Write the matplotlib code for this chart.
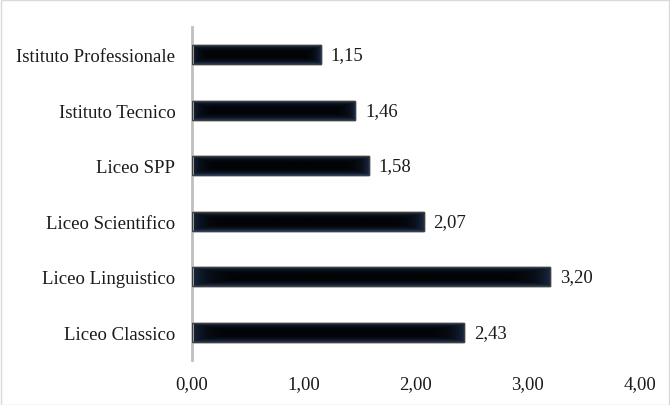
import matplotlib.pyplot as plt
import numpy as np
from matplotlib.patches import Rectangle
from matplotlib.colors import LinearSegmentedColormap

categories = ['Liceo Classico', 'Liceo Linguistico', 'Liceo Scientifico',
              'Liceo SPP', 'Istituto Tecnico', 'Istituto Professionale']
values = [2.43, 3.20, 2.07, 1.58, 1.46, 1.15]
xticks = [0, 1, 2, 3, 4]

plt.rcParams['font.family'] = ['Liberation Serif', 'DejaVu Serif']
fs = 13.5

fig = plt.figure(figsize=(6.7, 4.06), dpi=100)
ax = fig.add_axes([0.2866, 0.111, 0.6684, 0.82])

y = np.arange(len(categories))
bars = ax.barh(y, values, height=0.34, color='#0b1322', edgecolor='#3f3f3f',
               linewidth=1.0, zorder=2)

# soft glow: navy towards the edges, black in the middle
cmap = LinearSegmentedColormap.from_list('bar', ['#020306', '#1e3252'])
gy = np.abs(np.linspace(-1, 1, 64))[:, None] ** 3 * np.ones((64, 256))
gx = np.abs(np.linspace(-1, 1, 256))[None, :] ** 12
img = np.maximum(gy, gx * 0.8)
for b in bars:
    x0, y0 = b.get_x(), b.get_y()
    w, h = b.get_width(), b.get_height()
    im = ax.imshow(img, extent=[x0, x0 + w, y0, y0 + h], aspect='auto',
                   cmap=cmap, vmin=0, vmax=1, zorder=2.5, origin='lower')
    im.set_clip_path(b)
    ax.add_patch(Rectangle((x0, y0), w, h, fill=False, edgecolor='#3f3f3f',
                           linewidth=1.0, zorder=3))

for yi, v in zip(y, values):
    ax.annotate(f'{v:.2f}'.replace('.', ','), (v, yi), xytext=(7, 0),
                textcoords='offset points', va='center', ha='left',
                fontsize=fs, color='#1a1a1a')

ax.set_xlim(0, 4)
ax.set_ylim(-0.5, len(categories) - 0.5)
ax.set_xticks(xticks)
ax.set_xticklabels([f'{t:.2f}'.replace('.', ',') for t in xticks])
ax.set_yticks(y)
ax.set_yticklabels(categories)
ax.tick_params(axis='both', length=0, labelsize=fs, colors='#1a1a1a')
ax.tick_params(axis='x', pad=11)
ax.tick_params(axis='y', pad=12)

for s in ['top', 'right', 'bottom']:
    ax.spines[s].set_visible(False)
ax.spines['left'].set_color('#bfbfbf')
ax.spines['left'].set_linewidth(2)

fig.patches.append(Rectangle((0.001, 0.001), 0.997, 0.996, transform=fig.transFigure,
                             fill=False, edgecolor='#d9d9d9', linewidth=1))

fig.savefig('out.png', dpi=100)
